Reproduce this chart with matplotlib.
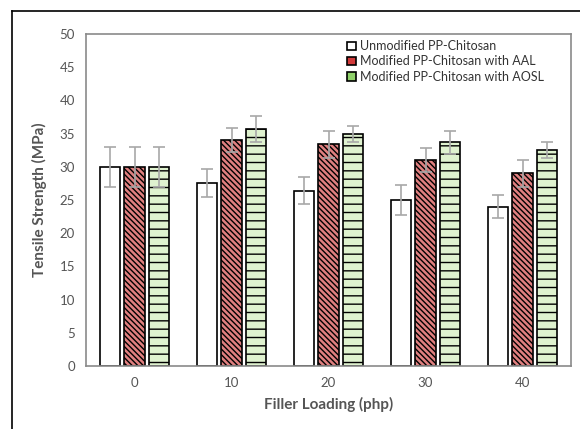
import matplotlib.pyplot as plt
import numpy as np
from matplotlib.patches import Patch
from matplotlib.lines import Line2D

plt.rcParams['font.family'] = ['Lato', 'DejaVu Sans']
plt.rcParams['hatch.linewidth'] = 1.0

loading = ["0", "10", "20", "30", "40"]
series = ["Unmodified PP-Chitosan", "Modified PP-Chitosan with AAL", "Modified PP-Chitosan with AOSL"]
unmod = [30.0, 27.6, 26.4, 25.0, 24.0]
unmod_err = [3.0, 2.1, 2.0, 2.2, 1.7]
aal = [30.0, 34.0, 33.4, 31.0, 29.0]
aal_err = [3.0, 1.8, 2.0, 1.8, 2.1]
aosl = [30.0, 35.7, 35.0, 33.7, 32.6]
aosl_err = [3.0, 2.0, 1.2, 1.7, 1.2]

faces = ["white", "#e07f7f", "#dff2cf"]
hatches = [None, "\\\\\\\\\\\\", "--"]
legend_faces = ["white", "#d23a3a", "#8fd16a"]

fig = plt.figure(figsize=(5.8, 4.29), dpi=100)
ax = fig.add_axes([0.1483, 0.1469, 0.8362, 0.7738])

x = np.arange(len(loading))
w = 0.21
pitch = 0.25
for i, (vals, errs) in enumerate([(unmod, unmod_err), (aal, aal_err), (aosl, aosl_err)]):
    ax.bar(x + (i - 1) * pitch, vals, w, color=faces[i], edgecolor="black",
           linewidth=1.2, hatch=hatches[i], zorder=2)
    ax.errorbar(x + (i - 1) * pitch, vals, yerr=errs, fmt="none", ecolor="#a8a8a8",
                elinewidth=1.2, capsize=4, capthick=1.2, zorder=3)

ax.set_xlim(-0.5, 4.5)
ax.set_ylim(0, 50)
ax.set_yticks(range(0, 51, 5))
ax.set_xticks(x)
ax.set_xticklabels(loading)
ax.tick_params(length=0, labelsize=9.5, colors="#555555", pad=8)
for s in ax.spines.values():
    s.set_color("#8a8a8a")
    s.set_linewidth(1.2)

ax.set_xlabel("Filler Loading (php)", fontsize=11, fontweight="bold", color="#555555", labelpad=6)
ax.set_ylabel("Tensile Strength (MPa)", fontsize=11, fontweight="bold", color="#555555", labelpad=9)

handles = [Patch(facecolor=legend_faces[i], edgecolor="black", linewidth=1.2) for i in range(3)]
ax.legend(handles, series, loc="upper left", bbox_to_anchor=(0.515, 1.015), frameon=False,
          fontsize=9, handlelength=0.7, handleheight=0.7, handletextpad=0.3,
          labelspacing=0.25, labelcolor="#333333")

fig.add_artist(Line2D([12 / 580, 12 / 580], [0, 1 - 11 / 429], color="black", linewidth=1.2))
fig.add_artist(Line2D([12 / 580, 1], [1 - 11 / 429, 1 - 11 / 429], color="black", linewidth=1.2))

fig.savefig("out.png", dpi=100)
